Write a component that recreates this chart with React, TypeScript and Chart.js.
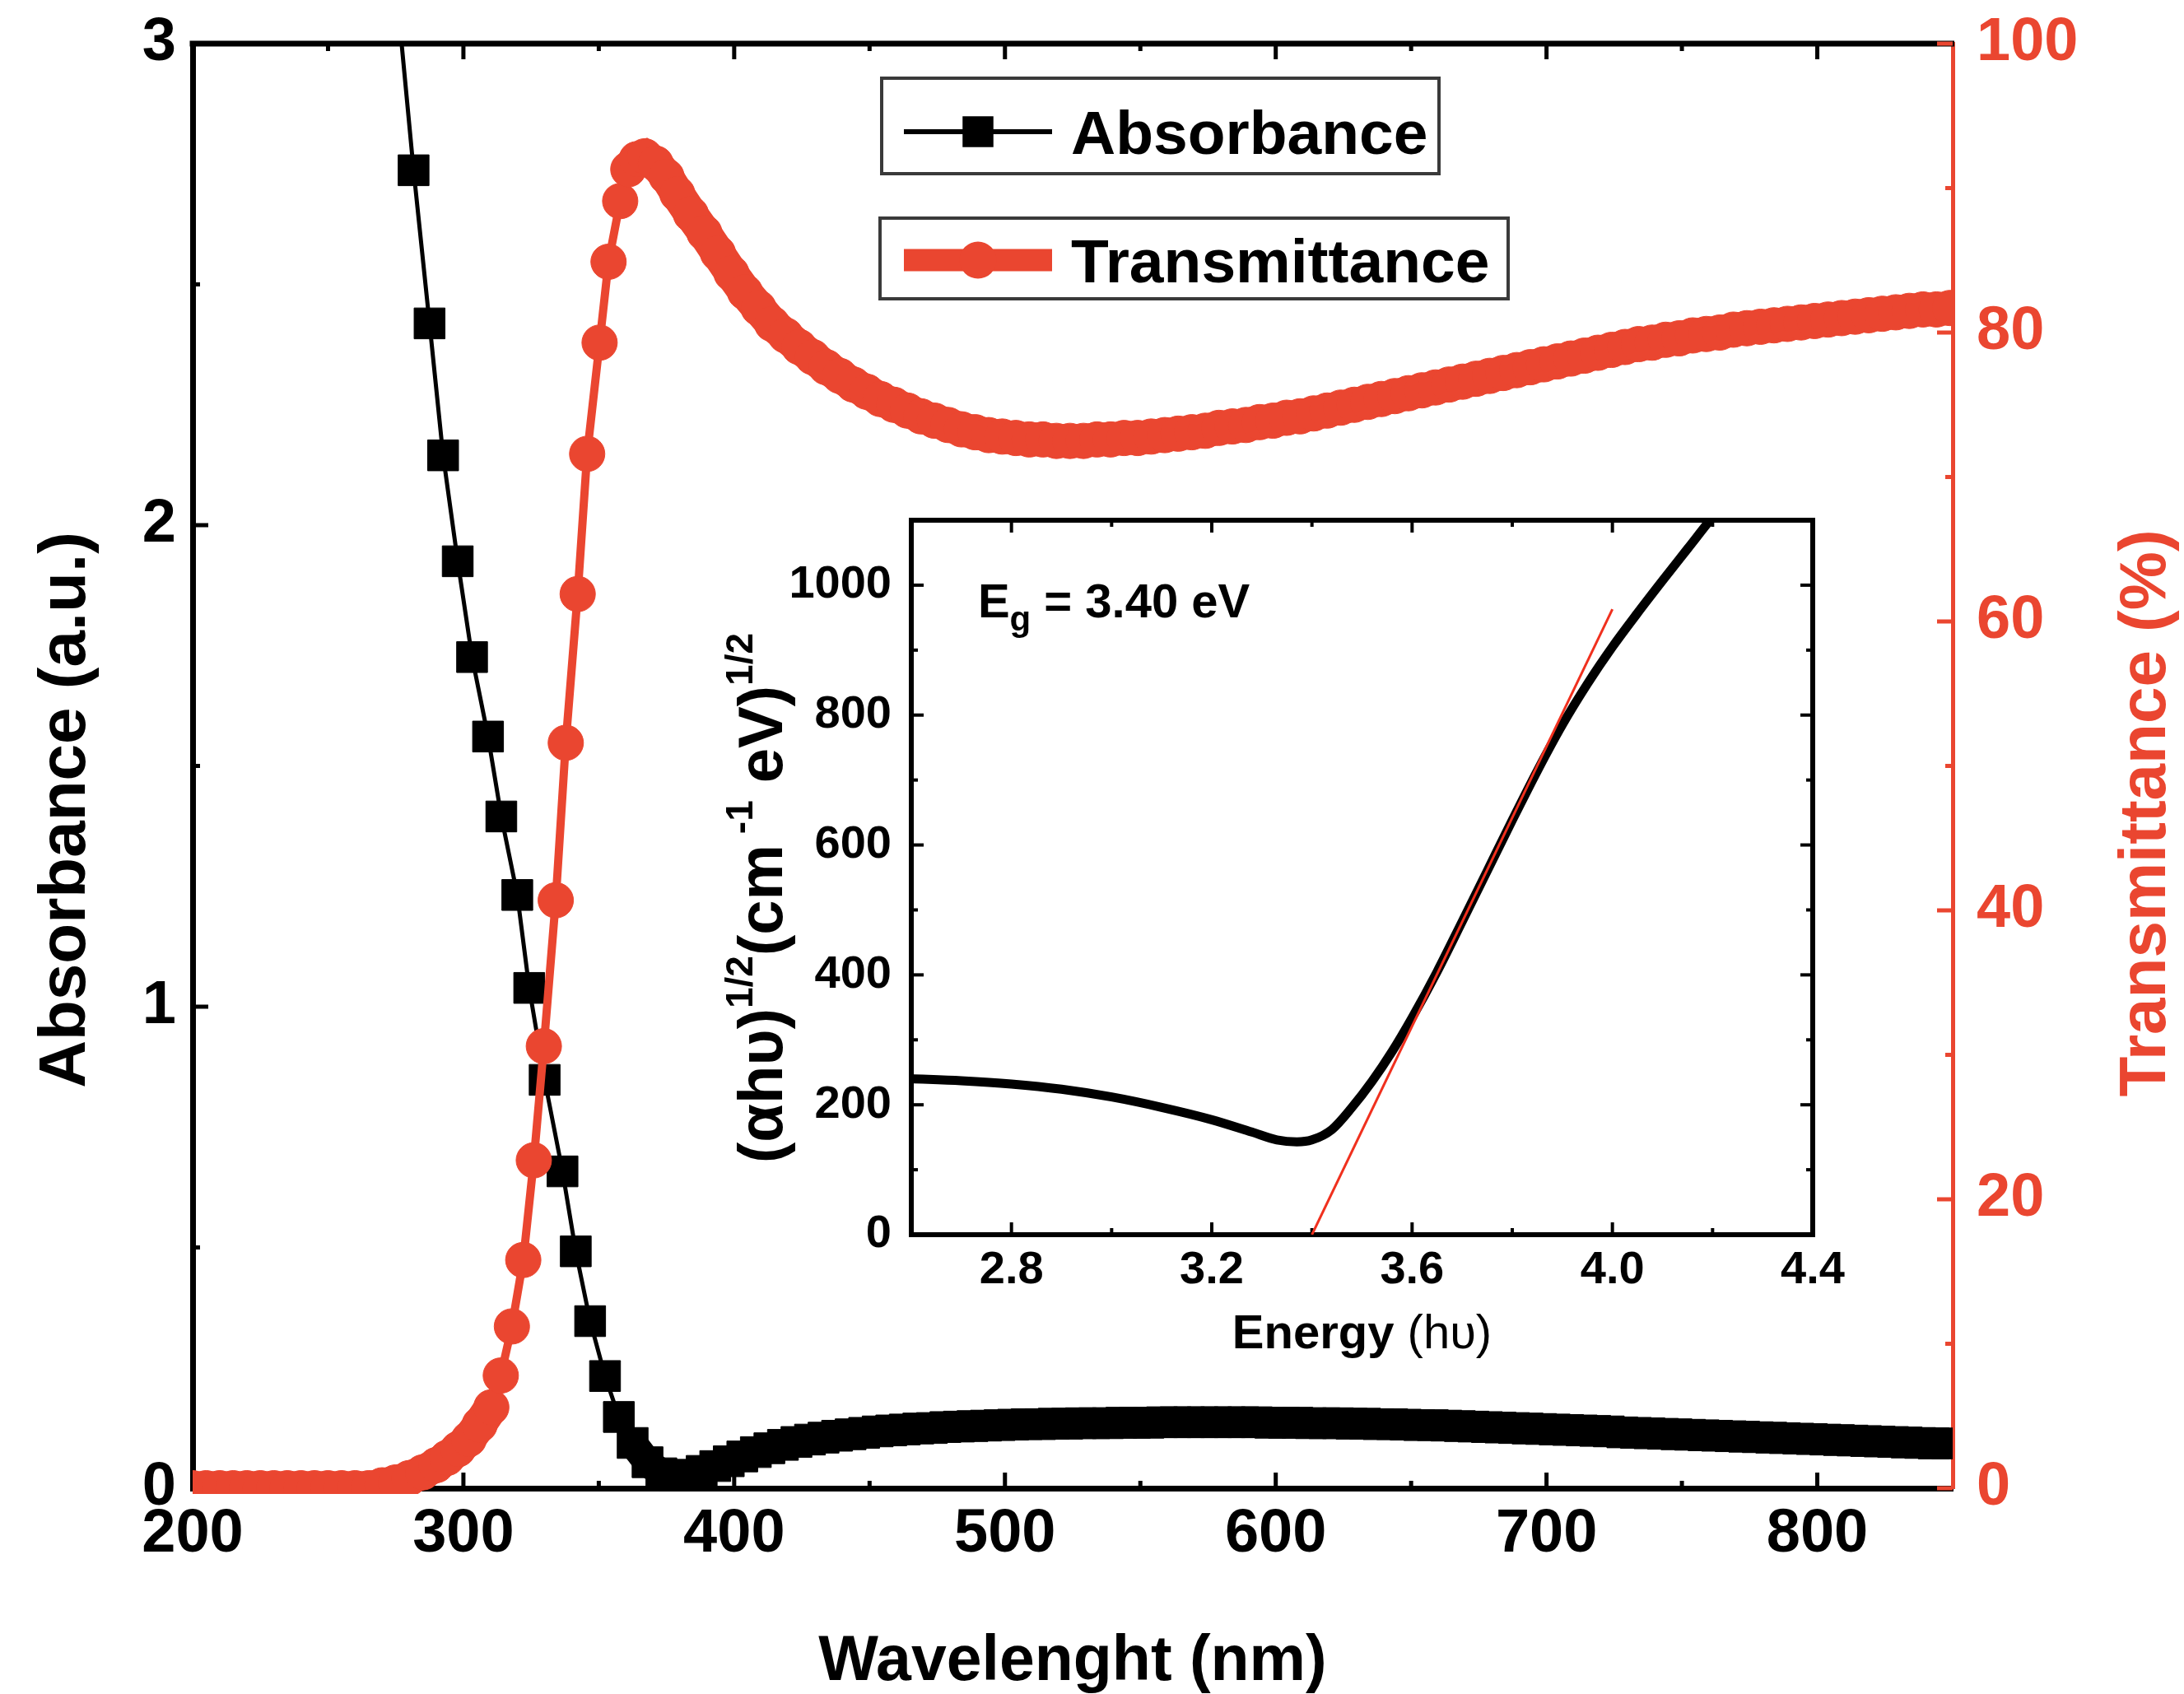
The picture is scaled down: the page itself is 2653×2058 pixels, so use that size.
import React, { useEffect, useRef } from 'react';
import { Chart, registerables } from 'chart.js';

Chart.register(...registerables);

const W = 2653;
const H = 2058;
const RED = '#EA4630';
const FAMILY = '"Liberation Sans", Arial, Helvetica, sans-serif';

// ---------------- main chart data ----------------
const absorbanceWavelength = [
  276, 281.6, 287.5, 292.5, 297.9, 303.2, 309.1, 314.0, 319.9, 324.3,
  330.0, 336.6, 341.5, 346.8, 352.3, 357.4, 362.5, 368.0, 373.1,
  378, 383, 388, 393, 398, 403, 408, 413, 418, 423,
  428, 433, 438, 443, 448, 453, 458, 463, 468, 473,
  478, 483, 488, 493, 498, 503, 508, 513, 518, 523,
  528, 533, 538, 543, 548, 553, 558, 563, 568, 573,
  578, 583, 588, 593, 598, 603, 608, 613, 618, 623,
  628, 633, 638, 643, 648, 653, 658, 663, 668, 673,
  678, 683, 688, 693, 698, 703, 708, 713, 718, 723,
  728, 733, 738, 743, 748, 753, 758, 763, 768, 773,
  778, 783, 788, 793, 798, 803, 808, 813, 818, 823,
  828, 833, 838, 843, 848,
];
const absorbanceValues = [
  3.07, 2.737, 2.419, 2.145, 1.925, 1.726, 1.561, 1.395, 1.232, 1.039,
  0.848, 0.658, 0.492, 0.347, 0.233, 0.148, 0.094, 0.054, 0.031,
  0.026, 0.028, 0.036, 0.046, 0.056, 0.066, 0.075, 0.083, 0.090, 0.096,
  0.101, 0.105, 0.109, 0.112, 0.115, 0.118, 0.120, 0.122, 0.124, 0.125,
  0.127, 0.128, 0.129, 0.130, 0.131, 0.132, 0.133, 0.133, 0.134, 0.134,
  0.135, 0.135, 0.135, 0.136, 0.136, 0.136, 0.137, 0.137, 0.137, 0.137,
  0.137, 0.137, 0.137, 0.137, 0.136, 0.136, 0.136, 0.135, 0.135, 0.135,
  0.134, 0.134, 0.133, 0.133, 0.132, 0.131, 0.131, 0.130, 0.129, 0.128,
  0.127, 0.126, 0.125, 0.124, 0.123, 0.122, 0.121, 0.120, 0.119, 0.118,
  0.116, 0.115, 0.114, 0.113, 0.112, 0.111, 0.110, 0.109, 0.108, 0.107,
  0.106, 0.105, 0.104, 0.103, 0.102, 0.101, 0.100, 0.099, 0.098, 0.097,
  0.096, 0.095, 0.094, 0.093, 0.093,
];

const transmittanceWavelength = [
  200, 205, 210, 215, 220, 225, 230, 235, 240, 245, 250, 255, 260, 265,
  270, 275, 280, 285, 290, 294, 298, 302, 306,
  310.3, 313.8, 317.9, 322.1, 326.0, 329.7, 334.1, 337.8, 342.2, 345.7, 350.3, 353.6, 357.9, 360.9,
  364, 367, 371, 375, 379,
  384, 389, 394, 399, 404, 409, 414, 419, 424, 429,
  434, 439, 444, 449, 454, 459, 464, 469, 474, 479,
  484, 489, 494, 499, 504, 509, 514, 519, 524, 529,
  534, 539, 544, 549, 554, 559, 564, 569, 574, 579,
  584, 589, 594, 599, 604, 609, 614, 619, 624, 629,
  634, 639, 644, 649, 654, 659, 664, 669, 674, 679,
  684, 689, 694, 699, 704, 709, 714, 719, 724, 729,
  734, 739, 744, 749, 754, 759, 764, 769, 774, 779,
  784, 789, 794, 799, 804, 809, 814, 819, 824, 829,
  834, 839, 844, 849,
];
const transmittanceValues = [
  0, 0, 0, 0, 0, 0, 0, 0, 0, 0, 0, 0, 0, 0,
  0.2, 0.4, 0.7, 1.1, 1.6, 2.1, 2.7, 3.4, 4.4,
  5.6, 7.8, 11.2, 15.8, 22.7, 30.6, 40.7, 51.6, 61.9, 71.6, 79.3, 84.9, 89.1, 91.3,
  92.0, 92.2, 91.7, 90.8, 89.6,
  88.2, 86.9, 85.5, 84.1, 82.8, 81.7, 80.6, 79.8, 79.0, 78.3,
  77.6, 77.0, 76.4, 75.9, 75.4, 75.0, 74.6, 74.2, 73.9, 73.6,
  73.3, 73.1, 72.9, 72.8, 72.7, 72.6, 72.6, 72.5, 72.5, 72.5,
  72.6, 72.6, 72.7, 72.7, 72.8, 72.9, 73.0, 73.1, 73.2, 73.4,
  73.5, 73.6, 73.8, 73.9, 74.1, 74.2, 74.4, 74.6, 74.8, 75.0,
  75.2, 75.4, 75.6, 75.8, 76.0, 76.2, 76.4, 76.6, 76.8, 77.0,
  77.2, 77.4, 77.6, 77.8, 78.0, 78.2, 78.4, 78.6, 78.8, 79.0,
  79.2, 79.3, 79.5, 79.6, 79.8, 79.9, 80.0, 80.2, 80.3, 80.4,
  80.5, 80.6, 80.7, 80.8, 80.9, 81.0, 81.1, 81.2, 81.3, 81.4,
  81.5, 81.6, 81.6, 81.7,
];

const wavelengthTicks = [200, 300, 400, 500, 600, 700, 800];
const wavelengthMinorTicks = [250, 350, 450, 550, 650, 750];
const absorbanceTicks = [0, 1, 2, 3];
const absorbanceMinorTicks = [0.5, 1.5, 2.5];
const transmittanceTicks = [0, 20, 40, 60, 80, 100];
const transmittanceMinorTicks = [10, 30, 50, 70, 90];

// ---------------- inset (Tauc plot) data ----------------
const energyValues = [
  2.60, 2.70, 2.80, 2.90, 3.00, 3.10, 3.20, 3.28, 3.33, 3.37,
  3.40, 3.44, 3.48, 3.52, 3.56, 3.60, 3.65, 3.70, 3.75, 3.80,
  3.85, 3.90, 3.95, 4.00, 4.05, 4.10, 4.15, 4.20, 4.25,
];
const taucValues = [
  240, 237, 232, 224, 212, 196, 177, 158, 146, 143,
  146, 162, 196, 236, 282, 334, 405, 482, 560, 638,
  714, 785, 848, 905, 957, 1007, 1056, 1105, 1152,
];
const fitEnergy = [3.40, 4.00];
const fitTauc = [0, 963];
const energyTicks = [2.8, 3.2, 3.6, 4.0, 4.4];
const energyMinorTicks = [3.0, 3.4, 3.8, 4.2];
const taucTicks = [0, 200, 400, 600, 800, 1000];
const taucMinorTicks = [100, 300, 500, 700, 900];

// ---------------- layout ----------------
const MAIN_AREA = { left: 234, right: 2372, top: 53, bottom: 1808 };
const INSET_BOX = { left: 860, top: 590, width: 1400, height: 1090 };
const INSET_AREA = { left: 1107, right: 2202, top: 632, bottom: 1500 };

const AXIS_W = 7;
const TICK_W = 5;
const MAJOR = 19;
const MINOR = 9;

type Part = { text: string; size: number; weight?: string; rise?: number };

function drawRich(ctx: CanvasRenderingContext2D, parts: Part[], x: number, y: number, rotation: number, align: 'left' | 'center', color: string) {
  ctx.save();
  ctx.translate(x, y);
  ctx.rotate(rotation);
  ctx.fillStyle = color;
  ctx.textBaseline = 'alphabetic';
  ctx.textAlign = 'left';
  const widths = parts.map((p) => {
    ctx.font = `${p.weight || 'bold'} ${p.size}px ${FAMILY}`;
    return ctx.measureText(p.text).width;
  });
  const total = widths.reduce((a, b) => a + b, 0);
  let cx = align === 'center' ? -total / 2 : 0;
  parts.forEach((p, i) => {
    ctx.font = `${p.weight || 'bold'} ${p.size}px ${FAMILY}`;
    ctx.fillText(p.text, cx, -(p.rise || 0));
    cx += widths[i];
  });
  ctx.restore();
}

function seg(ctx: CanvasRenderingContext2D, x1: number, y1: number, x2: number, y2: number) {
  ctx.beginPath();
  ctx.moveTo(x1, y1);
  ctx.lineTo(x2, y2);
  ctx.stroke();
}

// where neighbouring markers overlap, widen the connecting line so the band looks continuous
const bandWidth = (thick: number, thin: number) => (c: any) =>
  Math.hypot(c.p1.x - c.p0.x, c.p1.y - c.p0.y) < 30 ? thick : thin;

const noLabelPadding = (s: any) => {
  s.paddingTop = 0;
  s.paddingBottom = 0;
};

const mainFramePlugin = {
  id: 'mainFrame',
  beforeDatasetsDraw(chart: any) {
    const { ctx, chartArea: a, scales } = chart;
    const x = scales.x;
    const yA = scales.yA;
    const yT = scales.yT;
    ctx.save();
    ctx.lineCap = 'butt';
    ctx.strokeStyle = '#000';
    ctx.lineWidth = AXIS_W;
    seg(ctx, a.left - AXIS_W / 2, a.top, a.right + 2, a.top);
    ctx.lineWidth = TICK_W;
    for (const v of wavelengthTicks) {
      const p = x.getPixelForValue(v);
      seg(ctx, p, a.bottom, p, a.bottom - MAJOR);
      seg(ctx, p, a.top, p, a.top + MAJOR);
    }
    for (const v of wavelengthMinorTicks) {
      const p = x.getPixelForValue(v);
      seg(ctx, p, a.bottom, p, a.bottom - MINOR);
      seg(ctx, p, a.top, p, a.top + MINOR);
    }
    for (const v of absorbanceTicks) {
      const p = yA.getPixelForValue(v);
      seg(ctx, a.left, p, a.left + MAJOR, p);
    }
    for (const v of absorbanceMinorTicks) {
      const p = yA.getPixelForValue(v);
      seg(ctx, a.left, p, a.left + MINOR, p);
    }
    ctx.strokeStyle = RED;
    for (const v of transmittanceTicks) {
      const p = yT.getPixelForValue(v);
      seg(ctx, a.right, p, a.right - MAJOR, p);
    }
    for (const v of transmittanceMinorTicks) {
      const p = yT.getPixelForValue(v);
      seg(ctx, a.right, p, a.right - MINOR, p);
    }
    ctx.restore();
  },
  afterDraw(chart: any) {
    const { ctx } = chart;
    drawRich(ctx, [{ text: 'Absorbance (a.u.)', size: 80 }], 103, 984, -Math.PI / 2, 'center', '#000');
    drawRich(ctx, [{ text: 'Transmittance (%)', size: 80 }], 2630, 988, -Math.PI / 2, 'center', RED);
  },
};

const legendPlugin = {
  id: 'boxLegend',
  afterDatasetsDraw(chart: any) {
    const ctx: CanvasRenderingContext2D = chart.ctx;
    const items = [
      { label: 'Absorbance', color: '#000', style: 'rect', radius: 26.5, lineWidth: 6, box: [1071, 95, 677, 116], lineY: 160, baseline: 187 },
      { label: 'Transmittance', color: RED, style: 'circle', radius: 22.5, lineWidth: 27, box: [1069, 265, 763, 98], lineY: 316, baseline: 343 },
    ];
    ctx.save();
    for (const it of items) {
      const [bx, by, bw, bh] = it.box;
      ctx.fillStyle = '#fff';
      ctx.fillRect(bx, by, bw, bh);
      ctx.strokeStyle = '#3a3a3a';
      ctx.lineWidth = 4;
      ctx.strokeRect(bx, by, bw, bh);
      ctx.strokeStyle = it.color;
      ctx.lineWidth = it.lineWidth;
      ctx.lineCap = 'butt';
      seg(ctx, 1098, it.lineY, 1278, it.lineY);
      ctx.fillStyle = it.color;
      const mx = 1188;
      if (it.style === 'rect') {
        const s = it.radius * Math.SQRT1_2;
        ctx.fillRect(mx - s, it.lineY - s, 2 * s, 2 * s);
      } else {
        ctx.beginPath();
        ctx.arc(mx, it.lineY, it.radius, 0, Math.PI * 2);
        ctx.fill();
      }
      ctx.fillStyle = '#000';
      ctx.font = `bold 75px ${FAMILY}`;
      ctx.textAlign = 'left';
      ctx.textBaseline = 'alphabetic';
      ctx.fillText(it.label, 1301, it.baseline);
    }
    ctx.restore();
  },
};

const insetPlugin = {
  id: 'insetFrame',
  beforeDatasetsDraw(chart: any) {
    const { ctx, chartArea: a, scales } = chart;
    const x = scales.x;
    const y = scales.y;
    ctx.save();
    ctx.strokeStyle = '#000';
    ctx.lineWidth = 6;
    seg(ctx, a.left - 3, a.top, a.right + 3, a.top);
    seg(ctx, a.right, a.top, a.right, a.bottom + 3);
    ctx.lineWidth = 4;
    const M = 15;
    const m = 8;
    for (const v of energyTicks) {
      const p = x.getPixelForValue(v);
      seg(ctx, p, a.bottom, p, a.bottom - M);
      seg(ctx, p, a.top, p, a.top + M);
    }
    for (const v of energyMinorTicks) {
      const p = x.getPixelForValue(v);
      seg(ctx, p, a.bottom, p, a.bottom - m);
      seg(ctx, p, a.top, p, a.top + m);
    }
    for (const v of taucTicks) {
      const p = y.getPixelForValue(v);
      seg(ctx, a.left, p, a.left + M, p);
      seg(ctx, a.right, p, a.right - M, p);
    }
    for (const v of taucMinorTicks) {
      const p = y.getPixelForValue(v);
      seg(ctx, a.left, p, a.left + m, p);
      seg(ctx, a.right, p, a.right - m, p);
    }
    ctx.restore();
  },
  afterDraw(chart: any) {
    const { ctx, scales } = chart;
    const x = scales.x;
    const y = scales.y;
    drawRich(
      ctx,
      [
        { text: 'E', size: 58 },
        { text: 'g', size: 42, rise: -16 },
        { text: ' = 3.40 eV', size: 58 },
      ],
      x.getPixelForValue(2.733),
      y.getPixelForValue(951),
      0,
      'left',
      '#000'
    );
    drawRich(
      ctx,
      [
        { text: 'Energy ', size: 58 },
        { text: '(hυ)', size: 58, weight: 'normal' },
      ],
      (INSET_AREA.left + INSET_AREA.right) / 2 - INSET_BOX.left,
      1638 - INSET_BOX.top,
      0,
      'center',
      '#000'
    );
    drawRich(
      ctx,
      [
        { text: '(αhυ)', size: 76 },
        { text: '1/2', size: 46, rise: 36 },
        { text: '(cm', size: 76 },
        { text: ' -1', size: 46, rise: 36 },
        { text: ' eV)', size: 76 },
        { text: '1/2', size: 46, rise: 36 },
      ],
      950 - INSET_BOX.left,
      1091 - INSET_BOX.top,
      -Math.PI / 2,
      'center',
      '#000'
    );
  },
};

function toPoints(xs: number[], ys: number[]) {
  return xs.map((x, i) => ({ x, y: ys[i] }));
}

export default function App() {
  const mainRef = useRef<HTMLCanvasElement>(null);
  const insetRef = useRef<HTMLCanvasElement>(null);

  useEffect(() => {
    document.body.style.margin = '0';
    const tickFont = { family: FAMILY, size: 74, weight: 'bold' as const };
    const main = new Chart(mainRef.current as HTMLCanvasElement, {
      type: 'line',
      data: {
        datasets: [
          {
            label: 'Transmittance',
            data: toPoints(transmittanceWavelength, transmittanceValues),
            xAxisID: 'x',
            yAxisID: 'yT',
            borderColor: RED,
            backgroundColor: RED,
            borderWidth: 10,
            segment: { borderWidth: bandWidth(41, 10) },
            pointStyle: 'circle',
            pointRadius: 21.5,
            pointBorderWidth: 1,
            pointBorderColor: RED,
            pointBackgroundColor: RED,
            tension: 0,
            order: 1,
            clip: { left: 0, top: 0, right: 0, bottom: 7 },
          } as any,
          {
            label: 'Absorbance',
            data: toPoints(absorbanceWavelength, absorbanceValues),
            xAxisID: 'x',
            yAxisID: 'yA',
            borderColor: '#000',
            backgroundColor: '#000',
            borderWidth: 5,
            segment: { borderWidth: bandWidth(35, 5) },
            pointStyle: 'rect',
            pointRadius: 26.5,
            pointBorderWidth: 1,
            pointBorderColor: '#000',
            pointBackgroundColor: '#000',
            tension: 0,
            order: 2,
            clip: { left: 0, top: 0, right: 0, bottom: 7 },
          } as any,
        ],
      },
      options: {
        responsive: false,
        animation: false,
        devicePixelRatio: 1,
        events: [],
        layout: { padding: { top: MAIN_AREA.top, left: 0, right: 0, bottom: 0 } },
        plugins: { legend: { display: false }, tooltip: { enabled: false } },
        scales: {
          x: {
            type: 'linear',
            position: 'bottom',
            min: 200,
            max: 850,
            afterBuildTicks: (s: any) => { s.ticks = wavelengthTicks.map((v) => ({ value: v })); },
            afterFit: (s: any) => { s.height = H - MAIN_AREA.bottom; s.paddingLeft = 0; s.paddingRight = 0; },
            grid: { display: true, drawOnChartArea: false, drawTicks: false },
            border: { display: true, color: '#000', width: AXIS_W },
            ticks: { color: '#000', font: tickFont, padding: 12, autoSkip: false, maxRotation: 0, callback: (v: any) => String(v) },
            title: {
              display: true,
              text: 'Wavelenght (nm)',
              color: '#000',
              font: { family: FAMILY, size: 77, weight: 'bold', lineHeight: 1 },
              padding: { top: 0, bottom: 0 },
            },
          },
          yA: {
            type: 'linear',
            position: 'left',
            min: 0,
            max: 3,
            afterBuildTicks: (s: any) => { s.ticks = absorbanceTicks.map((v) => ({ value: v })); },
            afterFit: (s: any) => { s.width = MAIN_AREA.left; noLabelPadding(s); },
            grid: { display: true, drawOnChartArea: false, drawTicks: false },
            border: { display: true, color: '#000', width: AXIS_W },
            ticks: { color: '#000', font: tickFont, padding: 20, callback: (v: any) => String(v) },
          },
          yT: {
            type: 'linear',
            position: 'right',
            min: 0,
            max: 100,
            afterBuildTicks: (s: any) => { s.ticks = transmittanceTicks.map((v) => ({ value: v })); },
            afterFit: (s: any) => { s.width = W - MAIN_AREA.right; noLabelPadding(s); },
            grid: { display: true, drawOnChartArea: false, drawTicks: false },
            border: { display: true, color: RED, width: 5 },
            ticks: { color: RED, font: tickFont, padding: 29, callback: (v: any) => String(v) },
          },
        },
      } as any,
      plugins: [mainFramePlugin, legendPlugin],
    });

    const insetTickFont = { family: FAMILY, size: 56, weight: 'bold' as const };
    const inset = new Chart(insetRef.current as HTMLCanvasElement, {
      type: 'line',
      data: {
        datasets: [
          {
            label: 'Linear fit',
            data: toPoints(fitEnergy, fitTauc),
            borderColor: '#F0301E',
            borderWidth: 3,
            pointRadius: 0,
            order: 1,
          } as any,
          {
            label: 'Tauc',
            data: toPoints(energyValues, taucValues),
            borderColor: '#000',
            borderWidth: 11,
            pointRadius: 0,
            cubicInterpolationMode: 'monotone',
            order: 2,
          } as any,
        ],
      },
      options: {
        responsive: false,
        animation: false,
        devicePixelRatio: 1,
        events: [],
        layout: {
          padding: {
            top: INSET_AREA.top - INSET_BOX.top,
            right: INSET_BOX.left + INSET_BOX.width - INSET_AREA.right,
            left: 0,
            bottom: 0,
          },
        },
        plugins: { legend: { display: false }, tooltip: { enabled: false } },
        scales: {
          x: {
            type: 'linear',
            min: 2.6,
            max: 4.4,
            afterBuildTicks: (s: any) => { s.ticks = energyTicks.map((v) => ({ value: v })); },
            afterFit: (s: any) => { s.height = INSET_BOX.top + INSET_BOX.height - INSET_AREA.bottom; s.paddingLeft = 0; s.paddingRight = 0; },
            grid: { display: true, drawOnChartArea: false, drawTicks: false },
            border: { display: true, color: '#000', width: 6 },
            ticks: { color: '#000', font: insetTickFont, padding: 10, autoSkip: false, maxRotation: 0, callback: (v: any) => Number(v).toFixed(1) },
          },
          y: {
            type: 'linear',
            min: 0,
            max: 1100,
            afterBuildTicks: (s: any) => { s.ticks = taucTicks.map((v) => ({ value: v })); },
            afterFit: (s: any) => { s.width = INSET_AREA.left - INSET_BOX.left; noLabelPadding(s); },
            grid: { display: true, drawOnChartArea: false, drawTicks: false },
            border: { display: true, color: '#000', width: 6 },
            ticks: { color: '#000', font: insetTickFont, padding: 24, callback: (v: any) => String(v) },
          },
        },
      } as any,
      plugins: [insetPlugin],
    });

    return () => {
      main.destroy();
      inset.destroy();
    };
  }, []);

  return (
    <div style={{ position: 'relative', width: W, height: H, overflow: 'hidden', background: '#fff' }}>
      <canvas
        ref={mainRef}
        width={W}
        height={H}
        style={{ position: 'absolute', left: 0, top: 0, width: W, height: H }}
      />
      <canvas
        ref={insetRef}
        width={INSET_BOX.width}
        height={INSET_BOX.height}
        style={{ position: 'absolute', left: INSET_BOX.left, top: INSET_BOX.top, width: INSET_BOX.width, height: INSET_BOX.height }}
      />
    </div>
  );
}
